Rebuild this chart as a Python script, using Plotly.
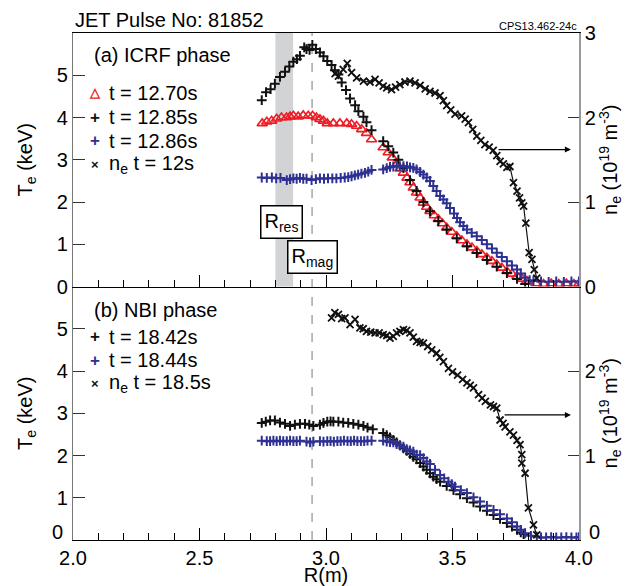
import plotly.graph_objects as go

# ---------------- data ----------------
# Panel (a) ICRF phase
Ra_1285 = [2.746,2.763,2.781,2.798,2.818,2.838,2.855,2.871,2.885,2.897,2.914,2.923,2.935,2.946,2.960,2.976,2.990,3.005,3.022,3.035,3.049,3.062,3.079,3.095,3.115,3.128,3.148,3.160,3.180,
           3.226,3.246,3.266,3.286,3.306,3.332,3.358,3.385,3.411,3.444,3.477,3.517,3.557,3.596,3.636,3.675,3.715,3.755,3.787]
Te_1285 = [4.41,4.60,4.67,4.80,4.96,5.08,5.21,5.32,5.38,5.46,5.66,5.62,5.60,5.72,5.62,5.54,5.45,5.34,5.24,5.12,5.02,4.83,4.65,4.45,4.29,4.15,4.02,3.89,3.70,
           3.44,3.32,3.17,3.00,2.80,2.52,2.26,2.00,1.78,1.55,1.35,1.14,0.95,0.79,0.63,0.47,0.32,0.18,0.06]

Ra_1270 = [2.748,2.766,2.785,2.805,2.824,2.844,2.858,2.871,2.890,2.910,2.930,2.947,2.962,2.976,2.990,3.005,3.029,3.055,3.082,3.101,3.121,3.141,3.160,3.180,
           3.226,3.246,3.262,3.279,3.293,3.306,3.320,3.332,3.345,3.358,3.372,3.385,3.398,3.411,3.428,3.444,3.460,3.477,3.497,3.517,3.537,3.557,3.577,3.596,3.616,3.636,3.656,3.675,3.695,3.715,3.735,3.755,3.775,3.794,
           3.830,3.860,3.890,3.920,3.950,3.980,4.000]
Te_1270 = [3.86,3.90,3.92,3.97,4.00,4.00,4.02,4.04,4.02,4.05,4.04,4.04,4.00,3.96,3.92,3.86,3.86,3.86,3.86,3.84,3.80,3.72,3.63,3.48,
           3.29,3.17,3.05,2.89,2.79,2.69,2.57,2.46,2.34,2.22,2.10,1.98,1.88,1.78,1.68,1.59,1.49,1.39,1.29,1.19,1.09,1.00,0.92,0.84,0.76,0.68,0.60,0.52,0.44,0.36,0.30,0.24,0.18,0.13,
           0.07,0.06,0.07,0.06,0.07,0.06,0.07]

Ra_1286 = [2.746,2.766,2.786,2.803,2.820,2.845,2.858,2.871,2.884,2.897,2.910,2.923,2.943,2.960,2.976,2.992,3.008,3.025,3.041,3.058,3.074,3.088,3.101,3.114,3.127,3.140,3.154,3.167,3.180,
           3.226,3.240,3.253,3.266,3.279,3.292,3.306,3.320,3.332,3.345,3.358,3.372,3.385,3.398,3.411,3.424,3.437,3.451,3.464,3.477,3.490,3.506,3.518,3.530,3.543,3.557,3.576,3.596,3.616,3.636,3.656,3.675,3.695,3.715,3.735,3.755,3.770,3.787,3.805,3.820,3.850,3.880,3.910,3.940,3.970,4.000]
Te_1286 = [2.58,2.57,2.58,2.56,2.57,2.52,2.54,2.56,2.55,2.57,2.55,2.55,2.52,2.54,2.56,2.55,2.56,2.56,2.56,2.57,2.58,2.59,2.61,2.63,2.65,2.67,2.69,2.72,2.76,
           2.77,2.80,2.83,2.84,2.85,2.85,2.85,2.84,2.82,2.81,2.77,2.71,2.65,2.58,2.50,2.38,2.26,2.14,2.06,1.97,1.86,1.73,1.62,1.52,1.43,1.35,1.27,1.19,1.10,1.00,0.90,0.80,0.70,0.60,0.50,0.40,0.31,0.21,0.15,0.13,0.12,0.11,0.12,0.11,0.12,0.12]

Ra_ne12 = [3.036,3.049,3.068,3.084,3.101,3.121,3.148,3.174,3.194,3.210,3.226,3.240,3.259,3.275,3.292,3.312,3.332,3.352,3.372,3.392,3.411,3.431,3.451,3.464,3.477,3.493,3.510,3.536,3.550,3.563,3.580,3.596,3.612,3.628,3.645,3.661,3.675,3.688,3.701,3.715,3.727,3.741,3.755,3.765,3.774,3.781,3.790,3.803,3.814,3.823,3.833]
ne_12 = [2.52,2.49,2.57,2.64,2.53,2.47,2.43,2.42,2.45,2.41,2.37,2.35,2.33,2.36,2.39,2.42,2.43,2.41,2.38,2.34,2.31,2.29,2.26,2.20,2.14,2.09,2.04,2.02,1.98,1.94,1.86,1.78,1.73,1.68,1.65,1.61,1.55,1.48,1.45,1.41,1.42,1.23,1.13,1.05,0.99,0.95,0.75,0.40,0.32,0.20,0.10]

# Panel (b) NBI phase
Rb_1842 = [2.746,2.762,2.779,2.798,2.818,2.838,2.858,2.877,2.897,2.917,2.934,2.950,2.976,2.990,3.005,3.018,3.029,3.049,3.068,3.088,3.108,3.128,3.148,3.164,3.185,
           3.226,3.240,3.253,3.266,3.279,3.292,3.306,3.319,3.332,3.345,3.358,3.372,3.385,3.398,3.411,3.424,3.437,3.451,3.477,3.504,3.530,3.557,3.583,3.609,3.636,3.662,3.688,3.715,3.735,3.755,3.770,3.781]
Te_1842 = [2.77,2.80,2.83,2.83,2.78,2.75,2.70,2.73,2.75,2.75,2.73,2.70,2.73,2.77,2.80,2.81,2.80,2.80,2.78,2.77,2.75,2.73,2.70,2.66,2.62,
           2.53,2.48,2.43,2.37,2.31,2.24,2.17,2.11,2.04,1.97,1.91,1.82,1.74,1.66,1.58,1.50,1.44,1.38,1.28,1.18,1.08,0.99,0.89,0.79,0.69,0.59,0.50,0.40,0.32,0.24,0.18,0.14]

Rb_1844 = [2.746,2.766,2.779,2.792,2.805,2.818,2.831,2.845,2.858,2.871,2.884,2.897,2.923,2.937,2.950,2.976,2.990,3.005,3.018,3.031,3.045,3.058,3.071,3.085,3.098,3.111,3.124,3.138,3.151,3.164,3.180,
           3.226,3.240,3.253,3.266,3.279,3.292,3.306,3.319,3.332,3.345,3.358,3.372,3.385,3.398,3.411,3.431,3.451,3.467,3.484,3.497,3.510,3.533,3.557,3.583,3.609,3.636,3.662,3.688,3.715,3.735,3.755,3.770,3.787,3.810,3.833,3.850,3.870,3.890,3.910,3.930,3.950,3.970,3.990,4.000]
Te_1844 = [2.35,2.34,2.34,2.35,2.34,2.35,2.34,2.34,2.35,2.34,2.34,2.35,2.33,2.31,2.33,2.34,2.33,2.34,2.34,2.33,2.34,2.34,2.35,2.34,2.34,2.35,2.34,2.34,2.34,2.35,2.35,
           2.35,2.33,2.32,2.31,2.27,2.24,2.21,2.15,2.12,2.09,2.02,2.01,1.94,1.86,1.80,1.66,1.54,1.46,1.38,1.32,1.26,1.18,1.11,1.01,0.91,0.81,0.71,0.61,0.51,0.42,0.32,0.24,0.16,0.10,0.08,0.06,0.06,0.07,0.06,0.06,0.07,0.06,0.06,0.07]

Rb_ne185 = [3.022,3.035,3.049,3.062,3.075,3.095,3.115,3.134,3.147,3.160,3.177,3.194,3.210,3.226,3.240,3.253,3.266,3.279,3.292,3.306,3.319,3.332,3.345,3.358,3.372,3.385,3.402,3.418,3.437,3.450,3.464,3.484,3.500,3.520,3.540,3.557,3.570,3.583,3.603,3.617,3.630,3.650,3.662,3.675,3.688,3.700,3.708,3.727,3.741,3.755,3.767,3.774,3.774,3.787,3.800,3.820,3.833]
ne_185 = [2.63,2.69,2.67,2.62,2.63,2.55,2.61,2.51,2.50,2.47,2.46,2.45,2.45,2.43,2.42,2.39,2.41,2.45,2.47,2.49,2.48,2.45,2.40,2.35,2.34,2.33,2.29,2.25,2.21,2.16,2.11,2.03,1.99,1.95,1.90,1.86,1.83,1.80,1.72,1.68,1.64,1.60,1.58,1.56,1.42,1.38,1.34,1.28,1.24,1.18,1.13,1.01,0.91,0.79,0.38,0.18,0.06]

# annotations / reference positions
R_res_band = [2.80, 2.87]
R_mag = 2.945
te_ticks_a = [0, 1, 2, 3, 4, 5]
te_ticks_b = [1, 2, 3, 4, 5]      # the "0" of panel (b) is raised slightly (see annotations)
ne_ticks_a = [0, 1, 2, 3]
ne_ticks_b = [1, 2]

# ---------------- styling ----------------
FONT = "Liberation Sans, Arial, Helvetica, sans-serif"
RED = "#ed1c24"
BLUE = "#2e3192"
BLK = "#111111"

fig = go.Figure()

def plus(x, y, color, xa, ya, name):
    fig.add_trace(go.Scatter(x=x, y=y, mode="markers", name=name, xaxis=xa, yaxis=ya,
                             marker=dict(symbol="cross-thin", size=7, color=color,
                                         line=dict(color=color, width=2.0)),
                             showlegend=False))

# panel (a)
fig.add_trace(go.Scatter(x=Ra_1270, y=Te_1270, mode="markers", name="t = 12.70s", xaxis="x2", yaxis="y",
                         marker=dict(symbol="triangle-up-open", size=9, color=RED, line=dict(color=RED, width=1.6)),
                         showlegend=False))
plus(Ra_1285, Te_1285, BLK, "x2", "y", "t = 12.85s")
plus(Ra_1286, Te_1286, BLUE, "x2", "y", "t = 12.86s")
fig.add_trace(go.Scatter(x=Ra_ne12, y=ne_12, mode="lines+markers", name="ne t = 12s", xaxis="x2", yaxis="y2",
                         line=dict(color=BLK, width=1.2),
                         marker=dict(symbol="x-thin", size=7, color=BLK, line=dict(color=BLK, width=1.8)),
                         showlegend=False))
# panel (b)
plus(Rb_1842, Te_1842, BLK, "x", "y3", "t = 18.42s")
plus(Rb_1844, Te_1844, BLUE, "x", "y3", "t = 18.44s")
fig.add_trace(go.Scatter(x=Rb_ne185, y=ne_185, mode="lines+markers", name="ne t = 18.5s", xaxis="x", yaxis="y4",
                         line=dict(color=BLK, width=1.2),
                         marker=dict(symbol="x-thin", size=7, color=BLK, line=dict(color=BLK, width=1.8)),
                         showlegend=False))

tickfont = dict(family=FONT, size=20, color="black")
xcommon = dict(range=[2.0, 4.0], dtick=0.5, ticks="inside", ticklen=12, tickwidth=1, tickcolor="black",
               showline=True, linecolor="black", linewidth=1, showgrid=False, zeroline=False, automargin=False,
               minor=dict(dtick=0.1, ticks="inside", ticklen=7, tickcolor="black", showgrid=False))
ycommon = dict(range=[0, 6], ticks="inside", ticklen=12, tickcolor="#333", showline=True, linecolor="#777",
               linewidth=1.2, showgrid=False, zeroline=False, tickfont=tickfont, automargin=False)
necommon = dict(range=[0, 3], ticks="inside", ticklen=11, tickcolor="#333", showline=True, linecolor="#999",
                linewidth=1.5, showgrid=False, zeroline=False, tickfont=tickfont, side="right", automargin=False)

fig.update_layout(
    width=637, height=586,
    margin=dict(l=73, r=58, t=33, b=46, autoexpand=False),
    paper_bgcolor="white", plot_bgcolor="white",
    font=dict(family=FONT, size=20, color="black"),
    showlegend=False,
    xaxis=dict(**xcommon, anchor="y3", domain=[0, 1], tickformat=".1f", tickfont=tickfont,
               title=dict(text="R(m)", font=dict(family=FONT, size=20), standoff=2)),
    xaxis2=dict(**xcommon, anchor="y", domain=[0, 1], matches="x", showticklabels=False, mirror=True),
    yaxis=dict(**ycommon, domain=[0.5, 1], anchor="x2", tickvals=te_ticks_a,
               title=dict(text="T<sub>e</sub> (keV)", font=dict(family=FONT, size=20), standoff=18)),
    yaxis2=dict(**necommon, domain=[0.5, 1], anchor="x2", overlaying="y", tickvals=ne_ticks_a,
                title=dict(text="n<sub>e</sub> (10<sup>19</sup> m<sup>-3</sup>)", font=dict(family=FONT, size=20), standoff=8)),
    yaxis3=dict(**ycommon, domain=[0, 0.5], anchor="x", tickvals=te_ticks_b,
                title=dict(text="T<sub>e</sub> (keV)", font=dict(family=FONT, size=20), standoff=18)),
    yaxis4=dict(**necommon, domain=[0, 0.5], anchor="x", overlaying="y3", tickvals=ne_ticks_b,
                title=dict(text="n<sub>e</sub> (10<sup>19</sup> m<sup>-3</sup>)", font=dict(family=FONT, size=20), standoff=8)),
)

# shapes: resonance band and magnetic axis
fig.add_shape(type="rect", xref="x2", yref="paper", x0=R_res_band[0], x1=R_res_band[1], y0=0.5, y1=1,
              fillcolor="#d1d3d4", line=dict(width=0), layer="below")
fig.add_shape(type="line", xref="x", yref="paper", x0=R_mag, x1=R_mag, y0=0, y1=1,
              line=dict(color="#a6a6a6", width=1.5, dash="dash"), layer="below")

ann = []
# title & id
ann.append(dict(text="JET Pulse No: 81852", xref="paper", yref="paper", x=0, y=1.0256,
                xanchor="left", yanchor="middle", showarrow=False, font=dict(size=20)))
ann.append(dict(text="CPS13.462-24c", xref="paper", yref="paper", x=1.0, y=1.014,
                xanchor="right", yanchor="middle", showarrow=False, font=dict(size=11)))

# raised zero labels of panel (b) (left Te axis and right ne axis)
ann.append(dict(text="0", xref="paper", yref="paper", x=-0.016, y=0.016, xanchor="right",
                yanchor="middle", showarrow=False, font=dict(size=20)))
ann.append(dict(text="0", xref="paper", yref="paper", x=1.016, y=0.016, xanchor="left",
                yanchor="middle", showarrow=False, font=dict(size=20)))

def legend_block(title, ytitle, entries):
    ann.append(dict(text=title, xref="paper", yref="paper", x=0.0375, y=ytitle, xanchor="left",
                    yanchor="middle", showarrow=False, font=dict(size=20)))
    for sym, col, symsize, txt, yy in entries:
        ann.append(dict(text=sym, xref="paper", yref="paper", x=0.0435, y=yy, xanchor="center",
                        yanchor="middle", showarrow=False, font=dict(size=symsize, color=col)))
        ann.append(dict(text=txt, xref="paper", yref="paper", x=0.0672, y=yy, xanchor="left",
                        yanchor="middle", showarrow=False, font=dict(size=20)))

legend_block("(a) ICRF phase", 0.9566, [
    ("<b>△</b>", RED, 13, "t = 12.70s", 0.8817),
    ("<b>+</b>", BLK, 17, "t = 12.85s", 0.8343),
    ("<b>+</b>", BLUE, 17, "t = 12.86s", 0.7870),
    ("<b>×</b>", BLK, 13, "n<sub>e</sub> t = 12s", 0.7416),
])
legend_block("(b) NBI phase", 0.4536, [
    ("<b>+</b>", BLK, 17, "t = 18.42s", 0.4004),
    ("<b>+</b>", BLUE, 17, "t = 18.44s", 0.3550),
    ("<b>×</b>", BLK, 13, "n<sub>e</sub> t = 18.5s", 0.3077),
])

# R_res / R_mag boxes
ann.append(dict(text="R<sub>res</sub>", xref="x2", yref="y", x=2.826, y=1.52, showarrow=False,
                font=dict(size=20), bgcolor="white", bordercolor="black", borderwidth=1.5, borderpad=3))
ann.append(dict(text="R<sub>mag</sub>", xref="x2", yref="y", x=2.945, y=0.71, showarrow=False,
                font=dict(size=20), bgcolor="white", bordercolor="black", borderwidth=1.5, borderpad=3))

# arrows pointing to the density axis
ann.append(dict(text="", xref="x2", yref="y2", x=3.968, y=1.62, axref="x2", ayref="y2", ax=3.676, ay=1.62,
                showarrow=True, arrowhead=2, arrowsize=1, arrowwidth=1.2, arrowcolor="black"))
ann.append(dict(text="", xref="x", yref="y4", x=3.968, y=1.48, axref="x", ayref="y4", ax=3.70, ay=1.48,
                showarrow=True, arrowhead=2, arrowsize=1, arrowwidth=1.2, arrowcolor="black"))

fig.update_layout(annotations=ann)
fig.write_html("out.html", config={"displayModeBar": False},
               post_script="document.body.style.margin='0';document.body.style.overflow='hidden';")
